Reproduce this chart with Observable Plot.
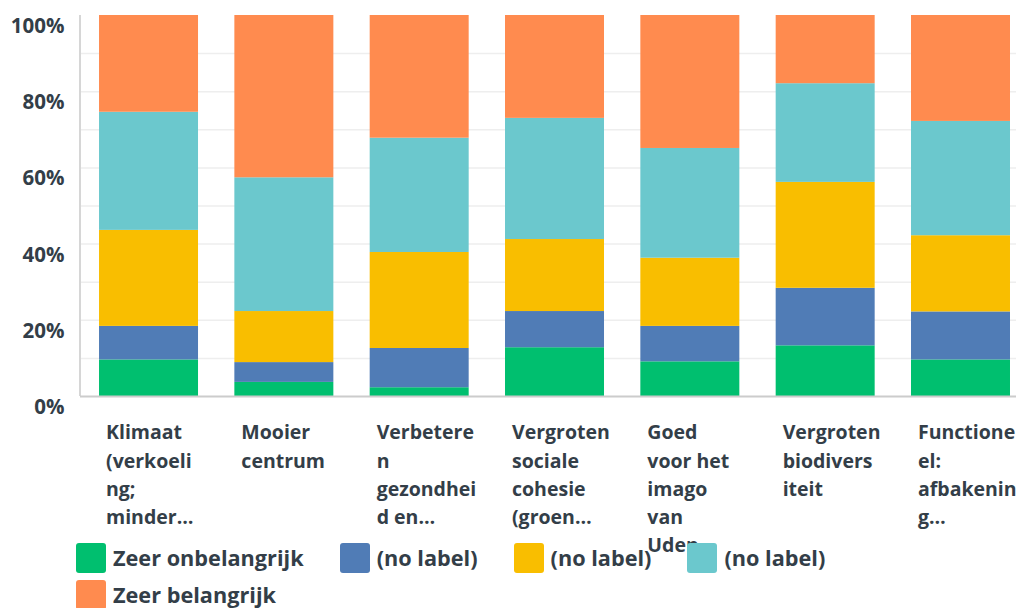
<!DOCTYPE html>
<html><head><meta charset="utf-8">
<script src="https://cdn.jsdelivr.net/npm/d3@7"></script>
<script src="https://cdn.jsdelivr.net/npm/@observablehq/plot@0.6"></script>
<style>
body{margin:0;background:#fff;font-family:"Open Sans",sans-serif;color:#333e48;}
#legend{display:flex;flex-wrap:wrap;column-gap:36px;row-gap:7px;padding-left:76px;margin-top:3px;width:940px;}
.item{display:flex;align-items:center;font-size:21.7px;font-weight:700;line-height:30px;}
.sw{width:30px;height:30px;border-radius:3px;margin-right:7px;flex:none;}
</style></head><body><div id="chart"></div><div id="legend"></div>
<script>
const categories = [
  "Klimaat (verkoeling; minder…",
  "Mooier centrum",
  "Verbeteren gezondheid en…",
  "Vergroten sociale cohesie (groen…",
  "Goed voor het imago van Uden",
  "Vergroten biodiversiteit",
  "Functioneel: afbakening…"
];
const tickLabels = [
  "Klimaat\n(verkoeli\nng;\nminder…",
  "Mooier\ncentrum",
  "Verbetere\nn\ngezondhei\nd en…",
  "Vergroten\nsociale\ncohesie\n(groen…",
  "Goed\nvoor het\nimago\nvan\nUden",
  "Vergroten\nbiodivers\niteit",
  "Functione\nel:\nafbakenin\ng…"
];
const seriesKeys = ["s1", "s2", "s3", "s4", "s5"];
const seriesLabels = ["Zeer onbelangrijk", "(no label)", "(no label)", "(no label)", "Zeer belangrijk"];
const seriesColors = ["#00bf6f", "#507cb6", "#f9be00", "#6bc8cd", "#ff8b4f"];
const zeerOnbelangrijk = [9.6, 3.7, 2.3, 12.8, 9.1, 13.3, 9.6];
const noLabel2 = [8.8, 5.2, 10.3, 9.5, 9.3, 15.1, 12.6];
const noLabel3 = [25.2, 13.4, 25.2, 18.9, 17.9, 27.8, 20.0];
const noLabel4 = [31.0, 35.1, 30.0, 31.8, 28.8, 25.9, 30.0];
const zeerBelangrijk = [25.4, 42.6, 32.2, 27.0, 34.9, 17.9, 27.8];
const yTicks = [0, 20, 40, 60, 80, 100];
const gridTicks = [10, 20, 30, 40, 50, 60, 70, 80, 90];

const seriesValues = [zeerOnbelangrijk, noLabel2, noLabel3, noLabel4, zeerBelangrijk];
const data = seriesKeys.flatMap((s, si) => categories.map((c, ci) => ({category: c, series: s, value: seriesValues[si][ci]})));

// left axis line drawn along the frame's left edge
const leftAxisLine = (index, scales, values, dims) => {
  const g = d3.create("svg:line")
    .attr("x1", dims.marginLeft).attr("x2", dims.marginLeft)
    .attr("y1", dims.marginTop).attr("y2", dims.height - dims.marginBottom)
    .attr("stroke", "#d6d6d6").attr("stroke-width", 2);
  return g.node();
};

const chart = Plot.plot({
  width: 1016, height: 540,
  marginTop: 15, marginBottom: 144, marginLeft: 80, marginRight: 0,
  style: {fontFamily: "Open Sans", fontSize: "19px", color: "#333e48", overflow: "visible", background: "transparent"},
  x: {domain: categories, paddingInner: 0.2685, paddingOuter: 0.0925, align: 0.76, round: false, axis: null, label: null},
  y: {domain: [0, 100], axis: null, label: null},
  color: {domain: seriesKeys, range: seriesColors},
  marks: [
    Plot.gridY(gridTicks, {stroke: "#eeeeee", strokeOpacity: 1, strokeWidth: 1.5}),
    Plot.barY(data, {x: "category", y: "value", fill: "series", order: seriesKeys}),
    leftAxisLine,
    Plot.ruleY([0], {stroke: "#cccccc", strokeWidth: 2}),
    Plot.axisY(yTicks, {label: null, tickSize: 0, tickPadding: 16, tickFormat: d => d + "%", dy: 11, fontSize: 20.5, fontWeight: 700, fill: "#333e48"}),
    Plot.axisX({label: null, tickSize: 0, tickPadding: 23, tickFormat: d => tickLabels[categories.indexOf(d)], textAnchor: "start", dx: -43, lineHeight: 1.44, fontSize: 19.5, fontWeight: 700, fill: "#333e48"})
  ]
});
document.getElementById("chart").appendChild(chart);

const legend = document.getElementById("legend");
seriesKeys.forEach((k, i) => {
  const item = document.createElement("div");
  item.className = "item";
  const sw = document.createElement("span");
  sw.className = "sw";
  sw.style.background = seriesColors[i];
  const t = document.createElement("span");
  t.textContent = seriesLabels[i];
  item.appendChild(sw); item.appendChild(t);
  legend.appendChild(item);
});
</script></body></html>
